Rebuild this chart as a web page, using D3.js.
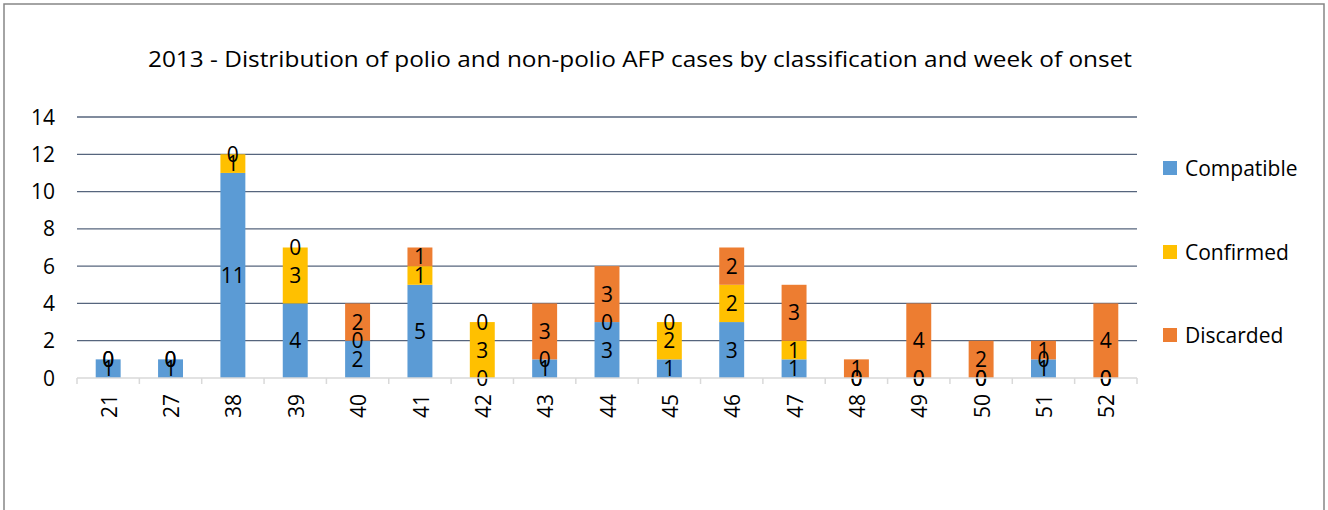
<!DOCTYPE html>
<html><head><meta charset="utf-8">
<script src="https://cdn.jsdelivr.net/npm/d3@7"></script>
<style>body{margin:0;background:#fff;}svg{display:block;font-family:"Open Sans","Noto Sans",sans-serif;}</style>
</head><body>
<svg id="c" width="1328" height="510"></svg>
<script>
const weeks = ["21","27","38","39","40","41","42","43","44","45","46","47","48","49","50","51","52"];
const compatible = [1,1,11,4,2,5,0,1,3,1,3,1,0,0,0,1,0];
const confirmed  = [0,0,1,3,0,1,3,0,0,2,2,1,0,0,0,0,0];
const discarded  = [0,0,0,0,2,1,0,3,3,0,2,3,1,4,2,1,4];
const seriesNames = ["Compatible","Confirmed","Discarded"];
const colors = ["#5B9BD5","#FFC000","#ED7D31"];
const yTicks = [0,2,4,6,8,10,12,14];

const svg = d3.select("#c");
svg.append("rect").attr("x",4).attr("y",4).attr("width",1320).attr("height",520)
  .attr("fill","#fff").attr("stroke","#868686").attr("stroke-width",1.5);

const m = {l:77, r:1137, t:117, b:378};
const x = d3.scaleBand().domain(weeks).range([m.l,m.r]).paddingInner(0.6).paddingOuter(0.3);
const y = d3.scaleLinear().domain([0,14]).range([m.b,m.t]);

svg.append("text").attr("x",148).attr("y",67).attr("text-anchor","start")
  .attr("font-size",22.5).attr("fill","#000")
  .attr("textLength",984).attr("lengthAdjust","spacingAndGlyphs")
  .text("2013 - Distribution of polio and non-polio AFP cases by classification and week of onset");

// grid
svg.append("g").selectAll("line").data(yTicks.filter(d=>d>0)).join("line")
  .attr("x1",m.l).attr("x2",m.r).attr("y1",d=>y(d)).attr("y2",d=>y(d))
  .attr("stroke","#56657d").attr("stroke-width",1.3);

// y axis labels
svg.append("g").selectAll("text").data(yTicks).join("text")
  .attr("x",55).attr("y",d=>y(d)).attr("dy","0.36em").attr("text-anchor","end")
  .attr("font-size",21).text(d=>d);

// stacked data
const rows = weeks.map((w,i)=>({week:w, Compatible:compatible[i], Confirmed:confirmed[i], Discarded:discarded[i]}));
const stack = d3.stack().keys(seriesNames)(rows);

const g = svg.append("g");
stack.forEach((s,si)=>{
  g.selectAll(null).data(s).join("rect")
    .attr("x",d=>x(d.data.week)).attr("width",x.bandwidth())
    .attr("y",d=>y(d[1])).attr("height",d=>y(d[0])-y(d[1]))
    .attr("fill",colors[si]);
});
stack.forEach((s,si)=>{
  g.selectAll(null).data(s).join("text")
    .attr("x",d=>x(d.data.week)+x.bandwidth()/2)
    .attr("y",d=>y((d[0]+d[1])/2)).attr("dy","0.36em")
    .attr("text-anchor","middle").attr("font-size",21).attr("fill","#000")
    .text(d=>d[1]-d[0]);
});

// x axis
const xa = svg.append("g");
xa.append("line").attr("x1",m.l).attr("x2",m.r).attr("y1",m.b).attr("y2",m.b).attr("stroke","#d9d9d9").attr("stroke-width",1.5);
const tickXs = d3.range(weeks.length+1).map(i=>m.l+i*(m.r-m.l)/weeks.length);
xa.selectAll("line.t").data(tickXs).join("line").attr("class","t")
  .attr("x1",d=>d).attr("x2",d=>d).attr("y1",m.b).attr("y2",m.b+6).attr("stroke","#d9d9d9").attr("stroke-width",1.5);
xa.selectAll("text").data(weeks).join("text")
  .attr("transform",d=>`translate(${x(d)+x.bandwidth()/2+1},394) rotate(-90)`)
  .attr("text-anchor","end").attr("dy","0.36em").attr("font-size",21).text(d=>d);

// legend
const lg = svg.append("g");
const ly = [168,252,335];
seriesNames.forEach((n,i)=>{
  lg.append("rect").attr("x",1163).attr("y",ly[i]-7).attr("width",14).attr("height",14).attr("fill",colors[i]);
  lg.append("text").attr("x",1185).attr("y",ly[i]).attr("dy","0.36em").attr("font-size",21).text(n);
});
</script>
</body></html>
